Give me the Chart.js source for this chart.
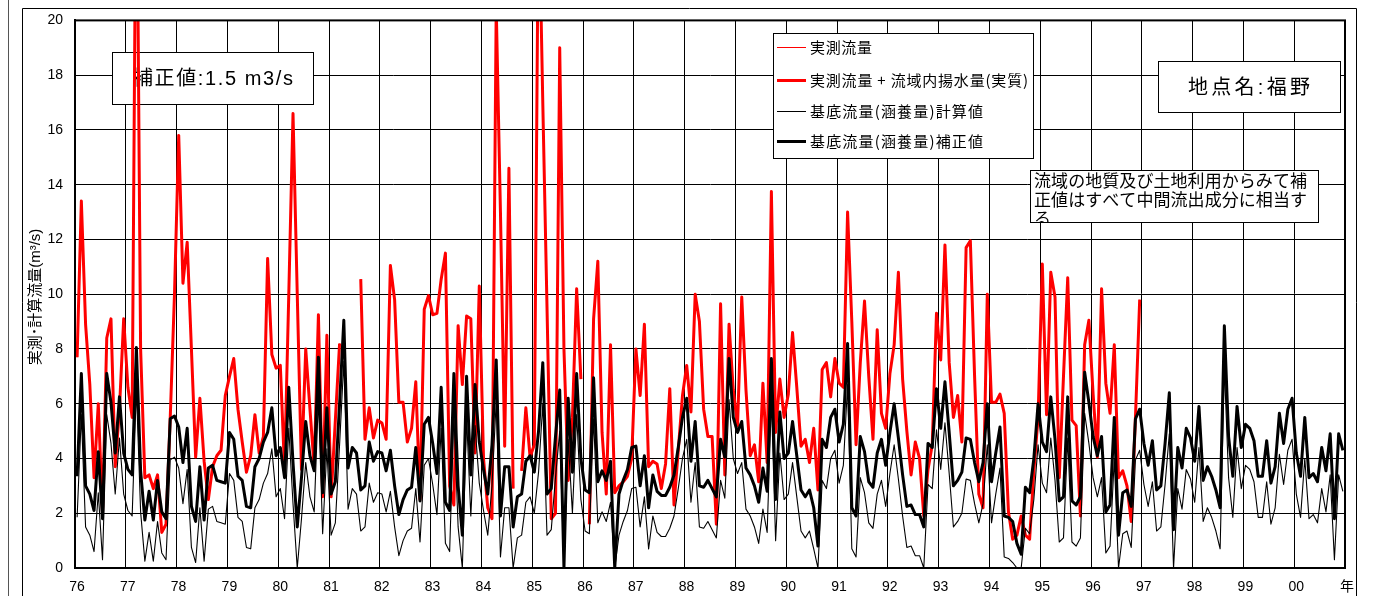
<!DOCTYPE html>
<html><head><meta charset="utf-8">
<script src="https://cdn.jsdelivr.net/npm/chart.js@4.4.1/dist/chart.umd.min.js"></script>
<style>html,body{margin:0;padding:0;background:#fff;overflow:hidden}#wrap{width:1373px;height:596px}</style>
</head><body><div id="wrap"><canvas id="c" width="1373" height="596"></canvas></div>
<script>
// x tick labels (one per year gridline, last one is the unit)
const yearLabels = ['76','77','78','79','80','81','82','83','84','85','86','87','88','89','90','91','92','93','94','95','96','97','98','99','00','年'];

// 基底流量(涵養量)補正値  (monthly, Jan 1976 - Dec 2000)
const baseCorrected = [
 3.35,7.1,3.0,2.7,2.1,4.25,1.8,7.1,6.05,4.2,6.25,4.2,
 3.6,3.4,8.05,3.55,1.75,2.8,1.75,3.2,2.05,1.8,5.45,5.55,
 5.15,3.85,5.1,2.25,1.7,3.7,1.75,3.65,3.75,3.2,3.15,3.1,
 4.95,4.7,3.35,3.2,2.25,2.2,3.7,4.0,4.6,4.95,5.85,4.1,
 4.4,3.3,6.6,3.85,1.5,3.3,5.35,4.1,3.55,7.7,2.75,5.85,
 2.7,3.15,6.0,9.05,3.65,4.4,4.2,2.85,3.0,4.6,3.9,4.25,
 4.2,3.55,4.3,3.0,1.95,2.5,2.85,2.95,4.4,2.45,5.25,5.5,
 4.55,3.45,6.6,2.4,2.1,7.1,3.0,1.2,7.0,3.4,6.7,4.6,
 3.6,2.7,4.5,7.6,1.9,3.7,3.7,1.5,2.6,2.7,3.9,4.1,
 3.5,5.0,7.5,2.7,2.9,4.8,6.5,0.0,6.2,3.5,7.1,4.0,
 2.85,2.75,6.95,3.15,3.55,3.2,3.9,0.0,2.7,3.2,3.6,4.4,
 4.45,3.0,4.1,2.2,3.4,2.8,2.65,2.65,2.95,3.4,4.4,5.5,
 6.2,3.9,5.35,3.0,2.95,3.2,2.9,2.6,4.7,4.05,7.65,5.5,
 4.95,5.35,3.65,3.4,3.0,2.4,3.65,2.8,7.65,2.5,5.7,4.0,
 4.2,5.35,4.1,2.85,2.6,2.85,2.2,0.8,4.7,4.4,5.5,5.8,
 4.6,5.25,8.2,2.2,1.9,4.8,4.25,3.15,2.95,4.2,4.7,3.75,
 4.95,6.0,4.75,3.4,2.25,2.3,1.95,1.95,1.5,4.55,4.4,6.55,
 5.1,6.8,4.95,3.0,3.2,3.5,4.75,4.7,3.85,3.15,3.85,6.0,
 3.15,4.2,5.15,1.9,1.85,1.7,0.9,0.5,2.95,2.75,4.0,6.0,
 4.6,4.25,6.25,4.7,2.45,2.6,6.25,2.45,2.3,2.6,7.15,6.05,
 4.8,4.1,4.8,2.05,2.3,5.5,1.2,2.75,2.85,2.25,5.45,5.8,
 4.55,3.75,4.65,2.85,3.0,4.55,6.4,1.4,4.4,3.65,5.1,4.75,
 3.9,5.9,3.2,3.7,3.35,2.85,2.2,8.85,4.8,3.35,5.9,4.4,
 5.25,5.1,4.65,3.35,3.35,4.65,3.1,3.7,5.65,4.55,5.8,6.2,
 4.2,3.35,5.5,3.3,3.45,3.15,4.4,3.55,4.9,1.8,4.9,4.3
];

// 基底流量(涵養量)計算値
const baseCalculated = [
 1.85,5.6,1.5,1.2,0.6,2.75,0.3,5.6,4.55,2.7,4.75,2.7,
 2.1,1.9,6.55,2.05,0.25,1.3,0.25,1.7,0.55,0.3,3.95,4.05,
 3.65,2.35,3.6,0.75,0.2,2.2,0.25,2.15,2.25,1.7,1.65,1.6,
 3.45,3.2,1.85,1.7,0.75,0.7,2.2,2.5,3.1,3.45,4.35,2.6,
 2.9,1.8,5.1,2.35,0.0,1.8,3.85,2.6,2.05,6.2,1.25,4.35,
 1.2,1.65,4.5,7.55,2.15,2.9,2.7,1.35,1.5,3.1,2.4,2.75,
 2.7,2.05,2.8,1.5,0.45,1.0,1.35,1.45,2.9,0.95,3.75,4.0,
 3.05,1.95,5.1,0.9,0.6,5.6,1.5,0.0,5.5,1.9,5.2,3.1,
 2.1,1.2,3.0,6.1,0.4,2.2,2.2,0.0,1.1,1.2,2.4,2.6,
 2.0,3.5,6.0,1.2,1.4,3.3,5.0,0.0,4.7,2.0,5.6,2.5,
 1.35,1.25,5.45,1.65,2.05,1.7,2.4,0.0,1.2,1.7,2.1,2.9,
 2.95,1.5,2.6,0.7,1.9,1.3,1.15,1.15,1.45,1.9,2.9,4.0,
 4.7,2.4,3.85,1.5,1.45,1.7,1.4,1.1,3.2,2.55,6.15,4.0,
 3.45,3.85,2.15,1.9,1.5,0.9,2.15,1.3,6.15,1.0,4.2,2.5,
 2.7,3.85,2.6,1.35,1.1,1.35,0.7,0.0,3.2,2.9,4.0,4.3,
 3.1,3.75,6.7,0.7,0.4,3.3,2.75,1.65,1.45,2.7,3.2,2.25,
 3.45,4.5,3.25,1.9,0.75,0.8,0.45,0.45,0.0,3.05,2.9,5.05,
 3.6,5.3,3.45,1.5,1.7,2.0,3.25,3.2,2.35,1.65,2.35,4.5,
 1.65,2.7,3.65,0.4,0.35,0.2,0.0,0.0,1.45,1.25,2.5,4.5,
 3.1,2.75,4.75,3.2,0.95,1.1,4.75,0.95,0.8,1.1,5.65,4.55,
 3.3,2.6,3.3,0.55,0.8,4.0,0.0,1.25,1.35,0.75,3.95,4.3,
 3.05,2.25,3.15,1.35,1.5,3.05,4.9,0.0,2.9,2.15,3.6,3.25,
 2.4,4.4,1.7,2.2,1.85,1.35,0.7,7.35,3.3,1.85,4.4,2.9,
 3.75,3.6,3.15,1.85,1.85,3.15,1.6,2.2,4.15,3.05,4.3,4.7,
 2.7,1.85,4.0,1.8,1.95,1.65,2.9,2.05,3.4,0.3,3.4,2.8
];

// 実測流量 + 流域内揚水量(実質)  (Jan 1976 - Dec 1996, null = missing)
const measuredPlusPumping = [
 7.7,13.4,8.9,6.7,3.3,6.0,2.0,8.4,9.1,3.7,5.8,9.1,
 6.6,5.5,28,8,3.3,3.4,2.9,3.4,1.3,1.6,5.5,10,
 15.8,10.4,11.9,8.0,4.05,6.2,3.9,2.5,3.7,4.1,4.3,6.3,
 7.0,7.65,5.8,4.6,3.5,4.1,5.6,4.2,4.8,11.3,7.8,7.3,
 7.4,3.6,10,16.6,10,3.6,8.0,5.8,3.7,9.25,2.6,8.5,
 2.6,5.4,8.2,null,null,null,null,10.55,4.7,5.85,4.75,5.4,
 5.3,4.7,11.05,9.8,6.05,6.05,4.6,5.1,6.8,2.5,9.45,9.95,
 9.25,9.3,10.55,11.5,3.0,2.3,8.85,6.7,9.2,9.1,4.2,10.3,
 4.0,2.2,1.8,20.5,13,4.45,14.6,2.9,null,3.55,5.85,4.05,
 4.5,25,17,9.5,1.8,2.0,19.0,8.0,3.2,5.5,10.2,6.9,
 null,1.6,9.1,11.2,4.95,2.7,8.15,2.75,3.0,3.15,3.35,4.0,
 8.0,6.3,8.9,3.7,3.9,3.8,2.9,3.8,6.55,2.3,4.3,6.3,
 7.4,5.7,10.0,9.0,5.8,4.8,4.8,1.6,9.65,3.4,8.9,6.5,
 5.2,9.9,6.5,4.1,4.5,3.15,6.75,3.85,13.75,4.95,6.9,5.5,
 6.35,8.6,6.6,4.45,4.7,3.85,5.1,2.85,7.25,7.5,6.25,7.65,
 6.75,6.6,13.0,9.0,4.5,7.5,9.75,7.0,4.7,8.7,5.65,5.1,
 7.1,8.15,10.8,6.9,5.0,3.4,4.6,4.0,1.9,3.6,4.5,9.3,
 7.6,11.8,7.5,5.5,6.3,4.6,11.7,11.95,7.0,2.7,2.2,10.0,
 6.05,6.05,6.35,5.65,2.05,1.05,1.2,1.9,1.2,1.05,3.55,5.5,
 11.1,5.6,10.8,9.9,3.3,7.0,10.6,5.4,5.2,1.9,8.15,9.05,
 6.35,4.05,10.2,6.75,5.65,8.15,3.3,3.55,3.0,1.7,5.5,9.8
];
// 実測流量: in the picture the thin red line lies hidden under the thick red line
const measuredFlow = measuredPlusPumping;

const legendItems = [
  {label:'実測流量', color:'#ff0000', width:1},
  {label:'実測流量 + 流域内揚水量(実質)', color:'#ff0000', width:3},
  {label:'基底流量(涵養量)計算値', color:'#000000', width:1},
  {label:'基底流量(涵養量)補正値', color:'#000000', width:3}
];

const toXY = arr => arr.map((v, i) => ({x: i + 0.5, y: v}));
const JP = '"Noto Sans CJK JP"';
const MIX = '"Liberation Sans", "Noto Sans CJK JP"';

function drawFit(c, text, x, y, w, font) {
  c.font = font; c.letterSpacing = '0px';
  const n = Array.from(text).length;
  const m = c.measureText(text).width;
  if (w && n > 1) c.letterSpacing = ((w - m) / (n - 1)) + 'px';
  c.textAlign = 'left'; c.textBaseline = 'middle'; c.fillStyle = '#000';
  c.fillText(text, x, y);
  c.letterSpacing = '0px';
}
function box(c, x, y, w, h) {
  c.fillStyle = '#fff'; c.fillRect(x, y, w, h);
  c.strokeStyle = '#000'; c.lineWidth = 1; c.strokeRect(x + 0.5, y + 0.5, w, h);
}

const decor = {
  id: 'decor',
  beforeDraw(chart) {
    const c = chart.ctx; c.save();
    c.fillStyle = '#fff'; c.fillRect(0, 0, chart.width, chart.height);
    c.strokeStyle = '#000'; c.lineWidth = 1;
    c.beginPath(); c.moveTo(22.5, 600); c.lineTo(22.5, 8.5); c.lineTo(1356.5, 8.5); c.lineTo(1356.5, 600); c.stroke();
    c.strokeStyle = '#555';
    c.beginPath(); c.moveTo(8.5, 0); c.lineTo(8.5, 596); c.stroke();
    c.restore();
  },
  beforeDatasetsDraw(chart) {
    const c = chart.ctx; c.save();
    // correction value box
    box(c, 112, 52, 201, 52);
    drawFit(c, '補正値:1.5 m3/s', 133, 79, 160, '20px ' + MIX);
    // station name box
    box(c, 1158, 61, 182, 51);
    drawFit(c, '地点名:福野', 1188, 88, 122, '20px ' + MIX);
    // legend
    box(c, 773, 33, 260, 125);
    const rows = [47, 80, 111, 141];
    const widths = [62, 218, 173, 173];
    legendItems.forEach((it, k) => {
      c.strokeStyle = it.color; c.lineWidth = it.width;
      c.beginPath(); c.moveTo(777, rows[k] + 0.5); c.lineTo(806, rows[k] + 0.5); c.stroke();
      drawFit(c, it.label, 810, rows[k], widths[k], '15px ' + JP);
    });
    // note box (text overflows and is clipped by the box)
    box(c, 1030, 170, 288, 52);
    c.save(); c.beginPath(); c.rect(1031, 171, 287, 51); c.clip();
    drawFit(c, '流域の地質及び土地利用からみて補', 1034, 181, 273, '17px ' + JP);
    drawFit(c, '正値はすべて中間流出成分に相当す', 1034, 200, 273, '17px ' + JP);
    drawFit(c, 'る', 1034, 219, 0, '17px ' + JP);
    c.restore();
    c.restore();
  },
  afterDatasetsDraw(chart) {
    const c = chart.ctx, a = chart.chartArea; c.save();
    c.strokeStyle = '#000'; c.lineWidth = 2;
    c.strokeRect(a.left, a.top, a.right - a.left, a.bottom - a.top);
    // y axis title
    c.translate(36, 297); c.rotate(-Math.PI / 2);
    c.font = '15px ' + MIX; c.fillStyle = '#000'; c.textAlign = 'center'; c.textBaseline = 'middle';
    c.fillText('実測･計算流量(m³/s)', 0, 0);
    c.restore();
  }
};

new Chart(document.getElementById('c'), {
  type: 'line',
  data: { datasets: [
    {label: legendItems[3].label, data: toXY(baseCorrected), borderColor: '#000', borderWidth: 3},
    {label: legendItems[2].label, data: toXY(baseCalculated), borderColor: '#000', borderWidth: 1.1},
    {label: legendItems[1].label, data: toXY(measuredPlusPumping), borderColor: '#ff0000', borderWidth: 3},
    {label: legendItems[0].label, data: toXY(measuredFlow), borderColor: '#ff0000', borderWidth: 1}
  ]},
  options: {
    responsive: false, animation: false, devicePixelRatio: 1,
    layout: {padding: {left: 0, top: 20, right: 28, bottom: 0}},
    plugins: {legend: {display: false}, tooltip: {enabled: false}},
    elements: {point: {radius: 0}, line: {tension: 0, borderJoinStyle: 'round', fill: false}},
    spanGaps: false,
    scales: {
      x: {
        type: 'linear', min: 0, max: 300,
        afterFit(s) { s.height = 28; },
        ticks: {stepSize: 12, autoSkip: false, maxRotation: 0, padding: 11, labelOffset: 2, color: '#000',
          font: {family: MIX, size: 14}, callback: v => yearLabels[Math.round(v / 12)]},
        grid: {color: '#000', lineWidth: 1, drawTicks: false},
        border: {display: true, color: '#000', width: 2}
      },
      y: {
        min: 0, max: 20,
        afterFit(s) { s.width = 75; },
        ticks: {stepSize: 2, padding: 12, color: '#000', font: {family: MIX, size: 14}},
        grid: {color: '#000', lineWidth: 1, drawTicks: false},
        border: {display: true, color: '#000', width: 2}
      }
    }
  },
  plugins: [decor]
});
</script></body></html>
